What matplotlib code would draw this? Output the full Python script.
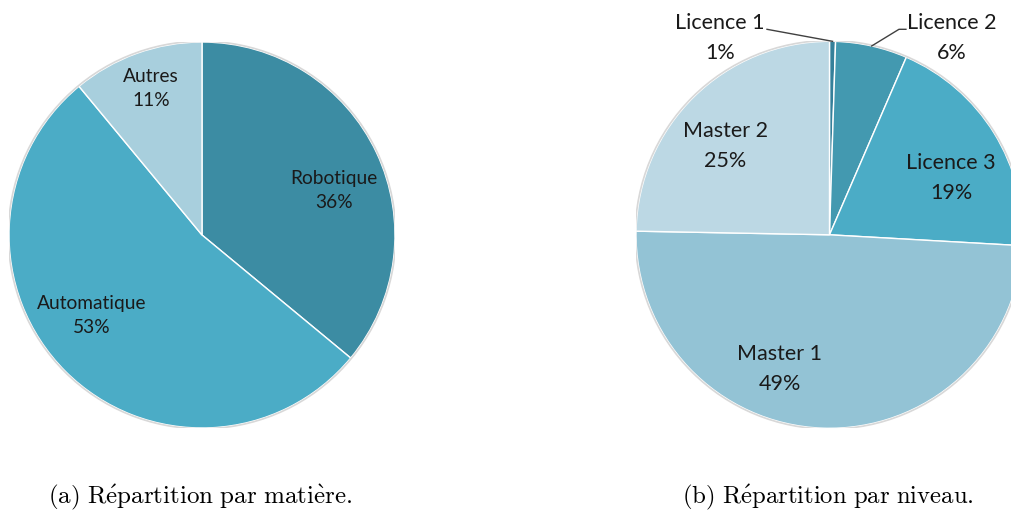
import numpy as np
import matplotlib.pyplot as plt

# Répartition par matière
matieres = ["Robotique", "Automatique", "Autres"]
part_matiere = [36, 53, 11]
pct_matiere = ["36%", "53%", "11%"]
couleurs_matiere = ["#3c8ca3", "#4bacc6", "#a8cfdd"]

# Répartition par niveau
niveaux = ["Licence 1", "Licence 2", "Licence 3", "Master 1", "Master 2"]
part_niveau = [0.5, 6.0, 19.4, 49.4, 24.7]
pct_niveau = ["1%", "6%", "19%", "49%", "25%"]
couleurs_niveau = ["#35809a", "#4399b0", "#4bacc6", "#93c3d5", "#bcd8e4"]

W, H = 1012, 512
fig = plt.figure(figsize=(W / 100, H / 100), dpi=100)

def axes_pour(cx, cy, r):
    # axes carré centré sur (cx, cy) en pixels, rayon r
    return fig.add_axes([(cx - r) / W, (H - cy - r) / H, 2 * r / W, 2 * r / H])

police = ["Lato", "DejaVu Sans"]

# --- camembert (a)
ax1 = axes_pour(202, 235, 193)
wedges1, _ = ax1.pie(part_matiere, colors=couleurs_matiere, startangle=90,
                     counterclock=False, radius=1,
                     wedgeprops=dict(edgecolor="white", linewidth=1))
ax1.add_patch(plt.Circle((0, 0), 1.004, fill=False, edgecolor="#d8d8d8", linewidth=1.2))
pos1 = [(0.684, 0.231), (-0.573, -0.417), (-0.265, 0.758)]
for (x, y), nom, p in zip(pos1, matieres, pct_matiere):
    ax1.text(x, y, f"{nom}\n{p}", ha="center", va="center", fontsize=13.8,
             family=police, linespacing=1.53, color="#1a1a1a")
ax1.set_xlim(-1, 1)
ax1.set_ylim(-1, 1)
ax1.set_aspect("equal")
ax1.axis("off")

# --- camembert (b)
ax2 = axes_pour(829.5, 234.8, 193.5)
wedges2, _ = ax2.pie(part_niveau, colors=couleurs_niveau, startangle=90,
                     counterclock=False, radius=1,
                     wedgeprops=dict(edgecolor="white", linewidth=1))
ax2.add_patch(plt.Circle((0, 0), 1.004, fill=False, edgecolor="#d8d8d8", linewidth=1.2))
pos2 = [(-0.566, 1.017), (0.632, 1.017), (0.628, 0.295), (-0.256, -0.694), (-0.537, 0.459)]
for (x, y), nom, p in zip(pos2, niveaux, pct_niveau):
    ax2.text(x, y, f"{nom}\n{p}", ha="center", va="center", fontsize=15.5,
             family=police, linespacing=1.6, color="#1a1a1a")

# traits de rappel pour les petites parts
def milieu(w):
    a = np.deg2rad((w.theta1 + w.theta2) / 2)
    return np.cos(a), np.sin(a)

mx, my = milieu(wedges2[0])
ax2.plot([-0.323, mx], [1.062, my], color="#404040", lw=1, clip_on=False)
mx, my = milieu(wedges2[1])
ax2.plot([0.395, 0.359, mx], [1.062, 1.062, my], color="#404040", lw=1, clip_on=False)

ax2.set_xlim(-1, 1)
ax2.set_ylim(-1, 1)
ax2.set_aspect("equal")
ax2.axis("off")

# légendes des sous-figures
plt.rcParams["mathtext.fontset"] = "cm"
fig.text(200 / W, 1 - 497 / H, r"$\mathrm{(a)\ R\acute{e}partition\ par\ mati\grave{e}re.}$",
         ha="center", va="center", fontsize=18)
fig.text(828 / W, 1 - 497 / H, r"$\mathrm{(b)\ R\acute{e}partition\ par\ niveau.}$",
         ha="center", va="center", fontsize=17.8)

fig.savefig("out.png", dpi=100)
